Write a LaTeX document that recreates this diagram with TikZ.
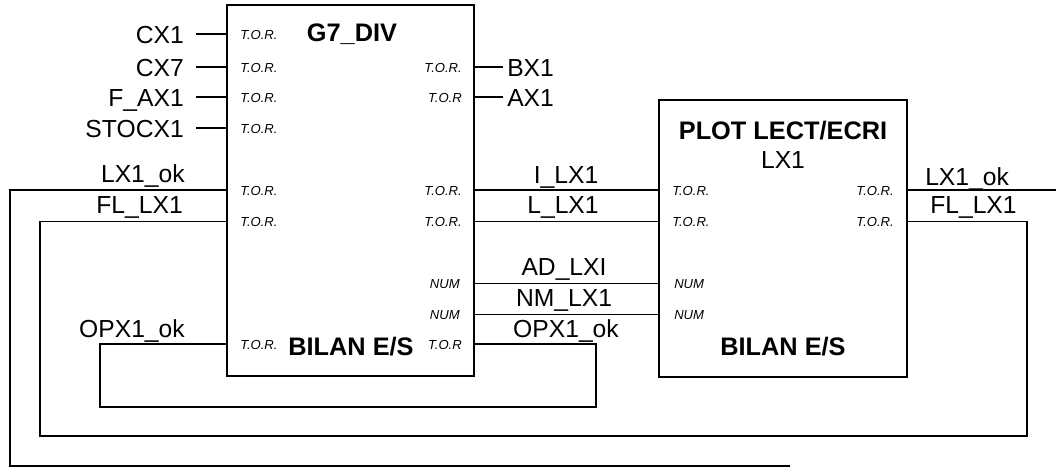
\documentclass[tikz,border=0pt]{standalone}
\usepackage{fontspec}
\setmainfont{Liberation Sans}
\begin{document}
\begin{tikzpicture}[x=0.75pt,y=-0.75pt,
  wire/.style={line width=0.85pt,line join=miter},
  blockbox/.style={draw,line width=0.8pt,inner sep=0pt,rectangle},
  sig/.style={inner sep=0pt,font=\fontsize{18.5}{20}\selectfont},
  port/.style={inner sep=0pt,font=\fontsize{9.8}{10}\selectfont\itshape},
  ttl/.style={inner sep=0pt,font=\fontsize{19}{20}\selectfont\bfseries}]
\useasboundingbox (0,0) rectangle (1056,468);

% blocks
\node[blockbox,minimum width=185.25pt,minimum height=278.25pt] (g7) at (350.5,190.5) {};
\node[blockbox,minimum width=186pt,minimum height=207.75pt] (plot) at (783,238.5) {};

% titles
\node[ttl,anchor=base] (g7t) at (352,41) {G7\_DIV};
\node[ttl,anchor=base] (g7b) at (351,355) {BILAN E/S};
\node[ttl,anchor=base] (pt1) at (783,139) {PLOT LECT/ECRI};
\node[sig,anchor=base] (pt2) at (783,168) {LX1};
\node[ttl,anchor=base] (pb) at (783,355) {BILAN E/S};

% ports of G7_DIV, left side
\node[port,anchor=base west] (gl1) at (240,39) {T.O.R.};
\node[port,anchor=base west] (gl2) at (240,72) {T.O.R.};
\node[port,anchor=base west] (gl3) at (240,102) {T.O.R.};
\node[port,anchor=base west] (gl4) at (240,133) {T.O.R.};
\node[port,anchor=base west] (gl5) at (240,195) {T.O.R.};
\node[port,anchor=base west] (gl6) at (240,226.5) {T.O.R.};
\node[port,anchor=base west] (gl7) at (240,349) {T.O.R.};
% ports of G7_DIV, right side
\node[port,anchor=base east] (gr1) at (462,72) {T.O.R.};
\node[port,anchor=base east] (gr2) at (462,102) {T.O.R};
\node[port,anchor=base east] (gr3) at (462,195) {T.O.R.};
\node[port,anchor=base east] (gr4) at (462,226.5) {T.O.R.};
\node[port,anchor=base east] (gr5) at (460,288.5) {NUM};
\node[port,anchor=base east] (gr6) at (460,319.5) {NUM};
\node[port,anchor=base east] (gr7) at (462,349) {T.O.R};
% ports of PLOT, left side
\node[port,anchor=base west] (pl1) at (672,195) {T.O.R.};
\node[port,anchor=base west] (pl2) at (672,226.5) {T.O.R.};
\node[port,anchor=base west] (pl3) at (674,288.5) {NUM};
\node[port,anchor=base west] (pl4) at (674,319.5) {NUM};
% ports of PLOT, right side
\node[port,anchor=base east] (pr1) at (894,195) {T.O.R.};
\node[port,anchor=base east] (pr2) at (894,226.5) {T.O.R.};

% inputs on the left
\node[sig,anchor=base east] (cx1) at (184,43) {CX1};
\node[sig,anchor=base east] (cx7) at (184,76) {CX7};
\node[sig,anchor=base east] (fax1) at (184,106) {F\_AX1};
\node[sig,anchor=base east] (stoc) at (184,137) {STOCX1};
\coordinate (cx1w) at (196,34);
\coordinate (cx7w) at (196,67);
\coordinate (faxw) at (196,97);
\coordinate (stocw) at (196,128);
\draw[wire] (cx1w) -- (cx1w -| g7.west);
\draw[wire] (cx7w) -- (cx7w -| g7.west);
\draw[wire] (faxw) -- (faxw -| g7.west);
\draw[wire] (stocw) -- (stocw -| g7.west);

% outputs on the right
\node[sig,anchor=base west] (bx1) at (507,76) {BX1};
\node[sig,anchor=base west] (ax1) at (507,106) {AX1};
\coordinate (bx1w) at (503,67);
\coordinate (ax1w) at (503,97);
\draw[wire] (bx1w -| g7.east) -- (bx1w);
\draw[wire] (ax1w -| g7.east) -- (ax1w);

% LX1_ok loop on the left
\node[sig,anchor=base east] (lxokl) at (185,182) {LX1\_ok};
\coordinate (lxa) at (10,190);
\coordinate (lxb) at (10,466);
\coordinate (lxend) at (790,466);
\draw[wire] (lxa -| g7.west) -- (lxa) -- (lxb) -- (lxend);

% FL_LX1 loop
\node[sig,anchor=base east] (fll) at (183,213) {FL\_LX1};
\node[sig,anchor=base west] (flr) at (930,213) {FL\_LX1};
\coordinate (fla) at (1027,221.5);
\coordinate (flb) at (1027,436);
\coordinate (flc) at (40,436);
\coordinate (fld) at (40,221.5);
\draw[wire] (fla -| plot.east) -- (fla) -- (flb) -- (flc) -- (fld) -- (fld -| g7.west);

% LX1_ok output on the right
\node[sig,anchor=base west] (lxokr) at (925,185) {LX1\_ok};
\coordinate (lxr) at (1056,190);
\draw[wire] (lxr -| plot.east) -- (lxr);

% links between the blocks
\node[sig,anchor=base] (ilx) at (566,183) {I\_LX1};
\node[sig,anchor=base] (llx) at (563,213) {L\_LX1};
\node[sig,anchor=base] (adlx) at (564,275) {AD\_LXI};
\node[sig,anchor=base] (nmlx) at (564,306) {NM\_LX1};
\coordinate (r1) at (0,190);
\coordinate (r2) at (0,221.5);
\coordinate (r3) at (0,283.5);
\coordinate (r4) at (0,314.5);
\draw[wire] (r1 -| g7.east) -- (r1 -| plot.west);
\draw[wire] (r2 -| g7.east) -- (r2 -| plot.west);
\draw[wire] (r3 -| g7.east) -- (r3 -| plot.west);
\draw[wire] (r4 -| g7.east) -- (r4 -| plot.west);

% OPX1_ok loop
\node[sig,anchor=base east] (opl) at (185,337) {OPX1\_ok};
\node[sig,anchor=base] (opr) at (566,337) {OPX1\_ok};
\coordinate (opa) at (596,344);
\coordinate (opb) at (596,407);
\coordinate (opc) at (100,407);
\coordinate (opd) at (100,344);
\draw[wire] (opa -| g7.east) -- (opa) -- (opb) -- (opc) -- (opd) -- (opd -| g7.west);
\end{tikzpicture}
\end{document}
